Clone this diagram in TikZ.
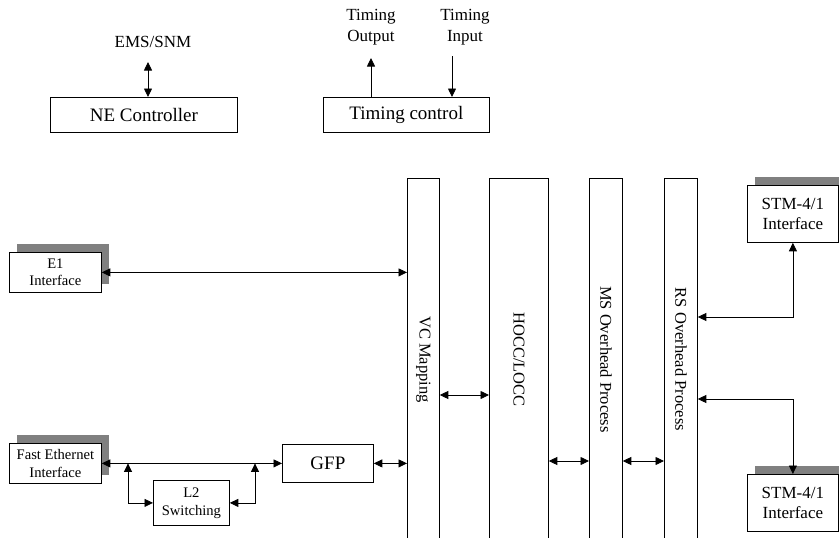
\documentclass[tikz,border=0pt]{standalone}
\usepackage{fontspec}
\setmainfont{Liberation Serif}
\usepackage{graphicx}
\usetikzlibrary{arrows.meta,shadows}
\definecolor{shad}{RGB}{128,128,128}
\begin{document}
\begin{tikzpicture}[x=1pt,y=-1pt,
  box/.style={draw, fill=white, line width=0.8pt, inner sep=0pt, align=center, anchor=north west},
  shbox/.style={box, drop shadow={shadow xshift=8pt, shadow yshift=8pt, fill=shad, opacity=1}},
  col/.style={draw, line width=0.8pt, inner sep=0pt, anchor=north west, minimum height=362pt, font=\fontsize{16.5}{20}\selectfont},
  conn/.style={line width=0.8pt, {Triangle[length=8.5pt,width=8pt]}-{Triangle[length=8.5pt,width=8pt]}},
  one/.style={line width=0.8pt, -{Triangle[length=8.5pt,width=8pt]}},
  big/.style={font=\fontsize{19}{22}\selectfont},
  small/.style={font=\fontsize{14.6}{17.7}\selectfont},
  mid/.style={font=\fontsize{17}{20}\selectfont},
  lab/.style={align=center, inner sep=0pt, font=\fontsize{17}{21}\selectfont}
]
\useasboundingbox (0,0) rectangle (839,538);
\clip (0,0) rectangle (839,538);

% top part
\node[box, big, minimum width=187pt, minimum height=35pt] (nec) at (50,97) {NE Controller};
\node[box, big, minimum width=166pt, minimum height=35pt] (tc) at (323,97) {Timing control};
\node[lab] (ems) at (153,42) {EMS/SNM};
\node[lab] (tout) at (371,27) {Timing\\Output};
\node[lab] (tin) at (465,27) {Timing\\Input};
\coordinate (emsA) at (148,62);
\coordinate (toA) at (371,58);
\coordinate (tiA) at (452,56);
\draw[conn] (emsA) -- (emsA |- nec.north);
\draw[one] (toA |- tc.north) -- (toA);
\draw[one] (tiA) -- (tiA |- tc.north);

% left part
\node[shbox, small, minimum width=92pt, minimum height=40pt] (e1) at (9,252) {E1\\Interface};
\node[shbox, small, minimum width=92pt, minimum height=40pt] (fe) at (9,443) {Fast Ethernet\\Interface};
\node[box, big, minimum width=91pt, minimum height=38pt] (gfp) at (282,444) {GFP};
\node[box, small, minimum width=76pt, minimum height=45pt] (l2) at (153,480) {L2\\Switching};

% columns
\node[col, minimum width=32pt] (vc) at (407,178) {\rotatebox{-90}{VC Mapping}};
\node[col, minimum width=59pt] (hocc) at (489,178) {\rotatebox{-90}{HOCC/LOCC}};
\node[col, minimum width=33pt] (ms) at (589,178) {\rotatebox{-90}{MS Overhead Process}};
\node[col, minimum width=33pt] (rs) at (664,178) {\rotatebox{-90}{RS Overhead Process}};

% right part
\node[shbox, mid, minimum width=91pt, minimum height=57pt] (stm1) at (747,185) {STM-4/1\\Interface};
\node[shbox, mid, minimum width=91pt, minimum height=57pt] (stm2) at (747,474) {STM-4/1\\Interface};

% connectors
\coordinate (b1) at (fe.east -| 128,0);
\coordinate (b2) at (fe.east -| 255,0);
\coordinate (y395) at (0,395);
\coordinate (y461) at (0,461);
\coordinate (y317) at (0,317);
\coordinate (y399) at (0,399);
\draw[conn] (e1.east) -- (e1.east -| vc.west);
\draw[conn] (fe.east) -- (fe.east -| gfp.west);
\draw[conn] (b1) |- (l2.west);
\draw[conn] (b2) |- (l2.east);
\draw[conn] (gfp.east) -- (gfp.east -| vc.west);
\draw[conn] (vc.east |- y395) -- (hocc.west |- y395);
\draw[conn] (hocc.east |- y461) -- (ms.west |- y461);
\draw[conn] (ms.east |- y461) -- (rs.west |- y461);
\draw[conn] (stm1.south) |- (rs.east |- y317);
\draw[conn] (rs.east |- y399) -| (stm2.north);
\end{tikzpicture}
\end{document}
